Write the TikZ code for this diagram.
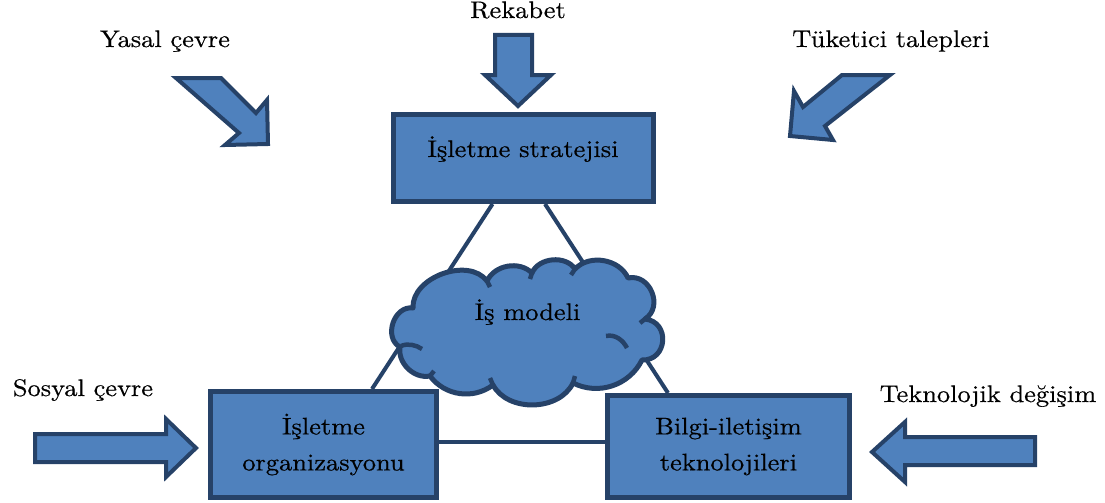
\documentclass[tikz,border=0pt]{standalone}
\usepackage{fontspec}
\setmainfont{lmroman10-regular.otf}[FakeStretch=1.1, FakeBold=0.5]
\definecolor{fillblue}{RGB}{79,129,189}
\definecolor{edgeblue}{RGB}{38,66,104}
\tikzset{
  box/.style={draw=edgeblue, fill=fillblue, line width=5pt, inner sep=0pt},
  blockarrow/.style={draw=edgeblue, fill=fillblue, line width=4pt, line join=miter},
  conn/.style={draw=edgeblue, line width=4pt},
  cloudline/.style={draw=edgeblue, line width=5pt, line join=round},
  cloudmark/.style={draw=edgeblue, line width=4.5pt, line cap=butt},
  lbl/.style={font=\fontsize{24}{35}\selectfont, inner sep=0pt, anchor=base},
  boxtext/.style={font=\fontsize{24}{36}\selectfont, inner sep=0pt, align=center},
}
\begin{document}
\begin{tikzpicture}[x=1pt,y=-1pt]
\useasboundingbox (0,0) rectangle (1105,503);

% nodes (boxes)
\node[box, minimum width=260pt, minimum height=87pt] (strat) at (523.5,158) {};
\node[box, minimum width=226pt, minimum height=106pt] (org) at (323.5,444.5) {};
\node[box, minimum width=242pt, minimum height=102pt] (tech) at (728.5,446.5) {};

% connectors behind
\draw[conn] ([xshift=-31pt]strat.south) -- ([xshift=48.5pt]org.north);
\draw[conn] ([xshift=21.5pt]strat.south) -- ([xshift=-60.5pt]tech.north);
\draw[conn] (org.east |- 0,442) -- (tech.west |- 0,442);

% redraw boxes on top of connectors
\node[box, minimum width=260pt, minimum height=87pt] at (strat.center) {};
\node[box, minimum width=226pt, minimum height=106pt, boxtext] at (org.center) {İşletme\\organizasyonu};
\node[box, minimum width=242pt, minimum height=102pt, boxtext] at (tech.center) {Bilgi-iletişim\\teknolojileri};

% cloud
\path[cloudline, fill=fillblue]
  (400,347) to[bend left=80, looseness=1.2] (413,308)
  to[bend left=73] (487,281)
  to[bend left=55] (532,273)
  to[bend left=62] (575,269)
  to[bend left=56] (628,278)
  to[bend left=80, looseness=1.3] (645,319)
  to[bend left=88, looseness=1.6] (642,360)
  to[bend left=45] (573,383)
  to[bend left=63] (493,385)
  to[bend left=45] (430,376)
  to[bend left=55] (400,347) -- cycle;
% inner marks of the cloud
\draw[cloudmark] (401,346) .. controls (408,343) and (416,345) .. (422,349);
\draw[cloudmark] (606,336) .. controls (615,334) and (623,340) .. (627,348);
\draw[cloudmark] (487,281) -- (490,287);
\draw[cloudmark] (532,273) -- (530,279);
\draw[cloudmark] (575,269) -- (571,275);
\draw[cloudmark] (645,319) -- (640,323);
\draw[cloudmark] (573,383) -- (575,376);
\draw[cloudmark] (493,385) -- (490,378);
\draw[cloudmark] (430,376) -- (434,371);
\node[lbl] (cloudtext) at (527.5,320) {İş modeli};

\node[lbl] (strattext) at (523,157) {İşletme stratejisi};

% block arrows
\draw[blockarrow] (495,35) -- (532,35) -- (532,75) -- (551,75) -- (518,106) -- (485,75) -- (495,75) -- cycle;
\draw[blockarrow] (176,78) -- (221,78) -- (256,113) -- (267,100) -- (268,144) -- (225,145) -- (239,133) -- cycle;
\draw[blockarrow] (842,75) -- (890,75) -- (825,126) -- (833,140) -- (790,136) -- (794,91) -- (803,107) -- cycle;
\draw[blockarrow] (35,434) -- (166,434) -- (166,419) -- (196,448) -- (166,477) -- (166,462) -- (35,462) -- cycle;
\draw[blockarrow] (1035,437) -- (905,437) -- (905,422) -- (872,452) -- (905,482) -- (905,465) -- (1035,465) -- cycle;

% outer labels
\node[lbl] (rekabet) at (518,18) {Rekabet};
\node[lbl] (yasal) at (165,47) {Yasal çevre};
\node[lbl] (tuketici) at (891,47) {Tüketici talepleri};
\node[lbl] (sosyal) at (83,396) {Sosyal çevre};
\node[lbl] (teknoloji) at (988,402) {Teknolojik değişim};
\end{tikzpicture}
\end{document}
